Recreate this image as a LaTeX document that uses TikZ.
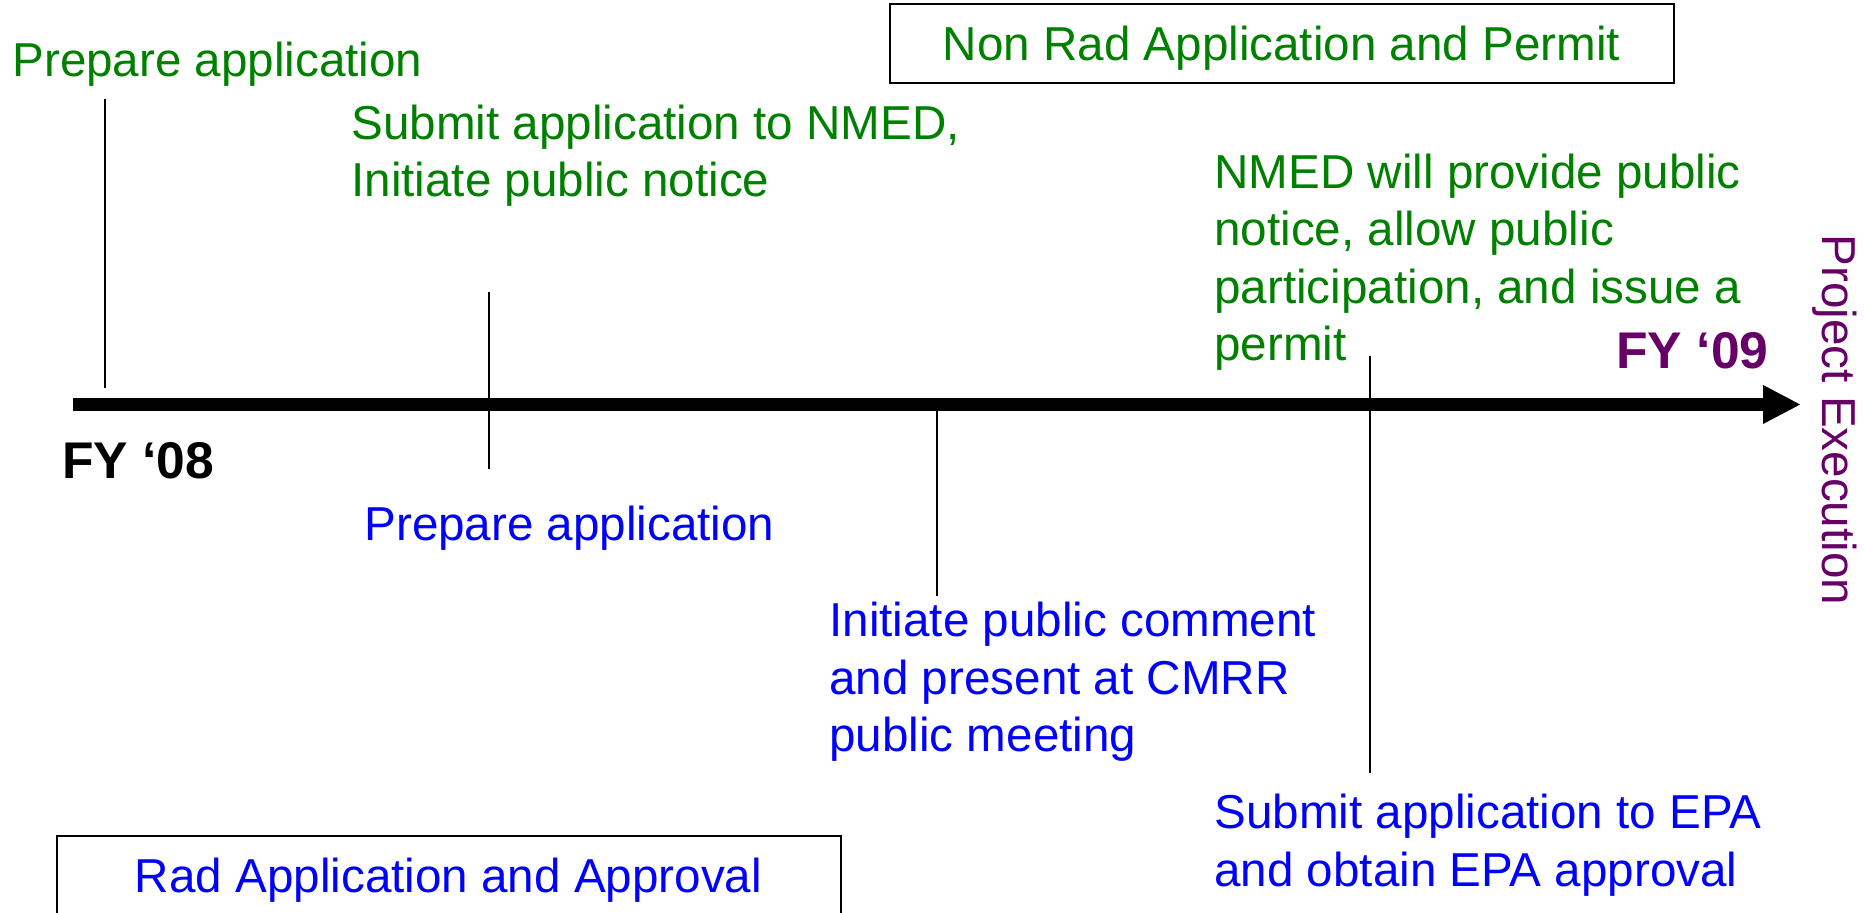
\documentclass[tikz,border=0pt]{standalone}
\usepackage{fontspec}
\setmainfont{Liberation Sans}
\usepackage{xcolor}
\usetikzlibrary{arrows.meta}

\definecolor{nonradgreen}{RGB}{0,128,0}
\definecolor{radblue}{RGB}{0,0,255}
\definecolor{fypurple}{RGB}{102,0,102}

\begin{document}
\begin{tikzpicture}[x=0.5pt,y=-0.5pt,
		steptext/.style={anchor=base west,inner sep=0pt,align=left,font=\fontsize{23.8}{28.75}\selectfont},
		nonradstep/.style={steptext,text=nonradgreen},
		radstep/.style={steptext,text=radblue},
		fylabel/.style={anchor=base west,inner sep=0pt,font=\fontsize{25.8}{31}\selectfont\bfseries},
		phasebox/.style={draw=black,line width=1pt,minimum width=392pt,minimum height=39.5pt,inner sep=0pt,text height=17pt,text depth=0pt,font=\fontsize{23.8}{28.75}\selectfont},
		tick/.style={line width=0.6pt}]
		\useasboundingbox (0,0) rectangle (1864,913);

		% Time axis.
		\coordinate (axisstart) at (73,404.5);
		\coordinate (axisend) at (1801,404.5);
		\draw[line width=6.5pt,-{Triangle[length=19pt,width=18pt]}] (axisstart) -- (axisend);
		\node[fylabel] (fy08) at (62,479) {FY ‘08};
		\node[fylabel,text=fypurple] (fy09) at (1616,369) {FY ‘09};
		\node[anchor=base,inner sep=0pt,rotate=-90,text=fypurple,font=\fontsize{23.8}{28.75}\selectfont] (execution) at (1822,420) {Project Execution};

		% Milestone ticks.
		\draw[tick]	(105,99) -- (105,388)
					(489,292) -- (489,469)
					(937,404.5) -- (937,596)
					(1370,356) -- (1370,773);

		% Non rad steps (above), placed at the baseline of the last line.
		\node[phasebox,text=nonradgreen] (nonradbox) at (1281.5,43.5) {Non Rad Application and Permit};
		\node[nonradstep] (nonradprep) at (12,77) {Prepare application};
		\node[nonradstep] (nonradsubmit) at (351,197) {Submit application to NMED,\\Initiate public notice};
		\node[nonradstep] (nonradpermit) at (1214,361) {NMED will provide public\\notice, allow public\\participation, and issue a\\permit};

		% Rad steps (below).
		\node[phasebox,text=radblue] (radbox) at (448.5,875.5) {Rad Application and Approval};
		\node[radstep] (radprep) at (364,541) {Prepare application};
		\node[radstep] (radcomment) at (829,752) {Initiate public comment\\and present at CMRR\\public meeting};
		\node[radstep] (radsubmit) at (1214,886) {Submit application to EPA\\and obtain EPA approval};
	\end{tikzpicture}
\end{document}
